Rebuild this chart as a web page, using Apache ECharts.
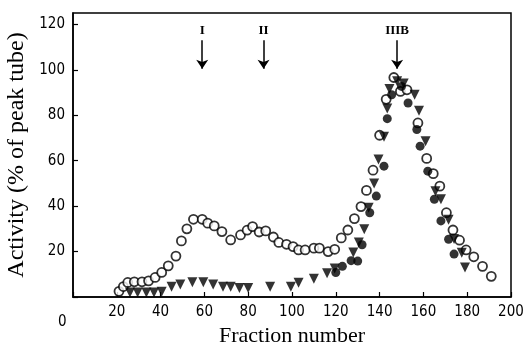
<!DOCTYPE html>
<html>
<head>
<meta charset="utf-8">
<script src="https://cdn.jsdelivr.net/npm/echarts@6/dist/echarts.min.js"></script>
<style>
  html, body { margin: 0; padding: 0; background: #fff; }
  #chart { width: 525px; height: 352px; }
</style>
</head>
<body>
<div id="chart"></div>
<script>
// open circles
const openX = [21, 23, 25, 28, 31.5, 34.5, 37.5, 40.5, 43.5, 47, 49.5, 52, 55, 59, 61.5, 64.5, 68, 72, 76.5, 79.5, 82, 85, 88, 91.5, 94, 97.5, 100.5, 103, 106, 110, 112.5, 116.5, 119.5, 122.5, 125.5, 128.5, 131.5, 134, 137, 140, 143, 146.5, 149.5, 152.5, 157.5, 161.5, 164.5, 167.5, 170.5, 173.5, 176.5, 179.5, 183, 187, 191];
const openY = [2.5, 4.6, 6.4, 6.7, 6.7, 7.1, 8.6, 10.8, 13.7, 18, 24.7, 30, 34.2, 34.2, 32.5, 31.3, 28.8, 25.1, 27.3, 29.4, 31, 28.6, 29.1, 26.4, 24, 23.2, 22.2, 20.7, 20.7, 21.5, 21.5, 20, 21, 26, 29.5, 34.5, 39.8, 46.9, 55.8, 71.2, 87, 96.6, 90.5, 91.2, 76.6, 61, 54.3, 48.8, 37.1, 29.5, 25, 20.7, 17.7, 13.5, 9.1];

// filled triangles (pointing down)
const triX = [26, 29.5, 33.5, 37, 40.5, 45, 49, 54.5, 59.5, 64, 68.5, 72, 76, 80, 90, 99.5, 103, 110, 116, 119.5, 128, 130.5, 133, 135, 137.5, 139.5, 142, 143.5, 144.5, 148, 151, 156, 158, 161, 165.5, 168, 171.5, 174, 177.5, 179];
const triY = [2, 2, 2, 2, 2.3, 4.5, 5.5, 6.5, 6.5, 5.5, 4.5, 4.5, 4, 4, 4.5, 4.5, 6.3, 8, 10.5, 12.5, 19.6, 24, 29.8, 39.3, 50, 60.5, 70.5, 83, 91.5, 95, 94, 89, 82, 68.5, 46.5, 43, 34, 25.5, 19.5, 13];

// filled circles
const fillX = [120, 123, 127, 130, 132, 135.5, 138.5, 142, 143.5, 145.5, 150, 153, 157, 158.5, 162, 165, 168, 171.5, 174];
const fillY = [10.8, 13.5, 16, 15.8, 23, 37.1, 44.4, 57.6, 78.5, 89, 92.7, 85.4, 73.7, 66.4, 55.4, 43, 33.5, 25.4, 18.9];

// peak arrows
const arrowX = [59, 87, 148];
const arrowLabels = ['I', 'II', 'IIIB'];
const arrowTop = 113;
const arrowTip = 100.5;

const zip = (xs, ys) => xs.map((x, i) => [x, ys[i]]);

const chart = echarts.init(document.getElementById('chart'));

const tickFont = {
  fontFamily: 'DejaVu Sans Condensed',
  fontSize: 15,
  color: '#000',
};

const titleFont = {
  fontFamily: 'Liberation Serif',
  fontSize: 22,
  color: '#000',
};

chart.setOption({
  animation: false,
  backgroundColor: '#fff',
  grid: {
    left: 73,
    right: 14,
    top: 13,
    bottom: 55,
    outerBoundsMode: 'none',
    containLabel: false,
    show: true,
    borderColor: '#000',
    borderWidth: 1.5,
  },
  xAxis: {
    type: 'value',
    min: 0,
    max: 200,
    interval: 20,
    name: 'Fraction number',
    nameLocation: 'middle',
    nameGap: 22,
    nameTextStyle: titleFont,
    axisLine: { show: true, lineStyle: { color: '#000', width: 1.5 } },
    axisTick: { show: true, inside: true, length: 5, lineStyle: { color: '#000', width: 1.2 } },
    splitLine: { show: false },
    axisLabel: {
      ...tickFont,
      margin: 8,
      formatter: (v) => (v === 0 ? '' : String(v)),
    },
  },
  yAxis: {
    type: 'value',
    min: 0,
    max: 125,
    interval: 20,
    name: 'Activity (% of peak tube)',
    nameLocation: 'middle',
    nameGap: 36,
    nameTextStyle: { ...titleFont, fontSize: 24 },
    axisLine: { show: true, lineStyle: { color: '#000', width: 1.5 } },
    axisTick: { show: true, inside: true, length: 5, lineStyle: { color: '#000', width: 1.2 } },
    splitLine: { show: false },
    axisLabel: {
      ...tickFont,
      margin: 8,
      formatter: (v) => (v === 0 ? '' : String(v)),
    },
  },
  graphic: [
    {
      type: 'text',
      left: 58,
      top: 315,
      style: { text: '0', font: '15px "DejaVu Sans Condensed"', fill: '#000' },
    },
  ],
  series: [
    {
      name: 'open',
      type: 'scatter',
      symbol: 'circle',
      symbolSize: 9,
      itemStyle: { color: '#fff', borderColor: '#000', borderWidth: 1.8 },
      data: zip(openX, openY),
      markLine: {
        silent: true,
        symbol: ['none', 'arrow'],
        symbolSize: 9,
        lineStyle: { color: '#000', width: 1.5, type: 'solid' },
        label: {
          show: true,
          position: 'start',
          distance: 3,
          formatter: '{b}',
          fontFamily: 'Liberation Serif',
          fontWeight: 'bold',
          fontSize: 13,
          color: '#000',
        },
        data: arrowX.map((x, i) => [
          { coord: [x, arrowTop], name: arrowLabels[i] },
          { coord: [x, arrowTip] },
        ]),
      },
    },
    {
      name: 'triangles',
      type: 'scatter',
      symbol: 'triangle',
      symbolRotate: 180,
      symbolSize: 10,
      itemStyle: { color: '#000' },
      data: zip(triX, triY),
    },
    {
      name: 'filled',
      type: 'scatter',
      symbol: 'circle',
      symbolSize: 9,
      itemStyle: { color: '#000' },
      data: zip(fillX, fillY),
    },
  ],
});
</script>
</body>
</html>
